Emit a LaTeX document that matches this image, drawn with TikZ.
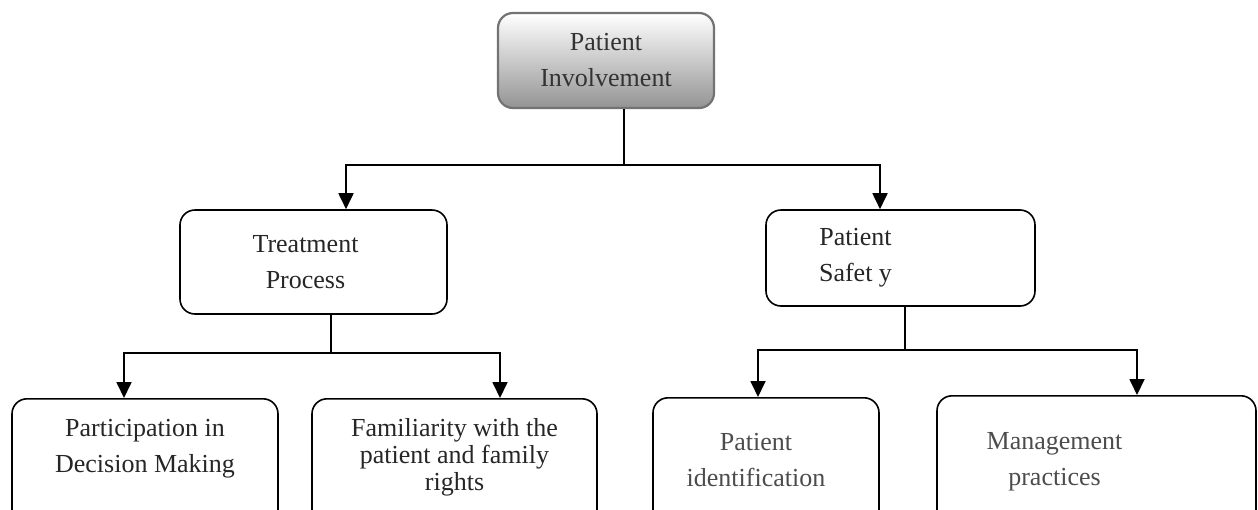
\documentclass[tikz,border=0pt]{standalone}
\usepackage{fontspec}
\setmainfont{Liberation Serif}
\usetikzlibrary{positioning}
\usetikzlibrary{arrows.meta}

\begin{document}
\begin{tikzpicture}[x=1pt,y=-1pt,
box/.style={draw,line width=1.6pt,rounded corners=15pt,align=center,font=\fontsize{26}{36}\selectfont,text=black!85,inner sep=6pt},
bot/.style={box,anchor=north,text depth=150pt,inner ysep=20pt},
conn/.style={line width=1.8pt},
arr/.style={conn,-{Triangle[width=15pt,length=16pt]}}]
\useasboundingbox (0,0) rectangle (1258,509);
% top
\node[box,draw=black!55,line width=2.2pt,top color=white,bottom color=black!42,text=black!80,minimum width=216pt,minimum height=95pt] (inv) at (606,60.5) {Patient\\Involvement};
% second row
\node[box,minimum width=267pt,minimum height=104pt] (treat) at (313.5,262) {Treatment\hspace*{16pt}\\Process\hspace*{16pt}};
\node[box,minimum width=269pt,minimum height=96pt] (safety) at (900.5,258) {Patient\hspace*{90pt}\\Safet y\hspace*{90pt}};
% third row
\node[bot,minimum width=266pt] (part) at (145,398) {Participation in\\Decision Making};
\node[bot,minimum width=285pt,font=\fontsize{26}{27}\selectfont] (famil) at (454.5,398) {Familiarity with the\\patient and family\\rights};
\node[bot,minimum width=226pt,inner ysep=35pt,text=black!70] (ident) at (766,397) {Patient\hspace*{20pt}\\identification\hspace*{20pt}};
\node[bot,minimum width=319pt,inner ysep=37pt,text=black!70] (manag) at (1096.5,395) {Management\hspace*{84pt}\\practices\hspace*{84pt}};
% connectors
\coordinate (j1) at (624,165);
\coordinate (j2) at (331,353);
\coordinate (j3) at (905,350);
\draw[conn] (inv.south -| j1) -- (j1);
\draw[arr] (j1) -| ([xshift=32.5pt]treat.north);
\draw[arr] (j1) -| ([xshift=-20.5pt]safety.north);
\draw[conn] (treat.south -| j2) -- (j2);
\draw[arr] (j2) -| ([xshift=-21pt]part.north);
\draw[arr] (j2) -| ([xshift=45.5pt]famil.north);
\draw[conn] (safety.south -| j3) -- (j3);
\draw[arr] (j3) -| ([xshift=-8pt]ident.north);
\draw[arr] (j3) -| ([xshift=40.5pt]manag.north);
\end{tikzpicture}
\end{document}
